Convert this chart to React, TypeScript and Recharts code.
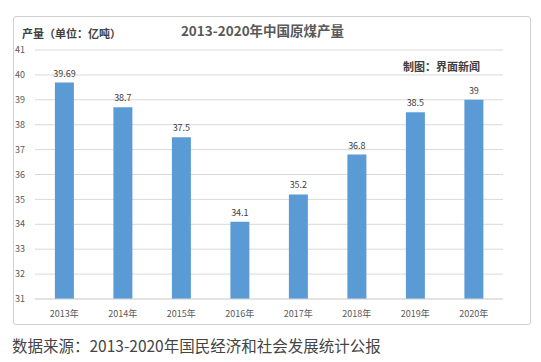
import React from 'react';
import { BarChart, Bar, XAxis, YAxis, CartesianGrid, LabelList } from 'recharts';

const years = ['2013年', '2014年', '2015年', '2016年', '2017年', '2018年', '2019年', '2020年'];
const output = [39.69, 38.7, 37.5, 34.1, 35.2, 36.8, 38.5, 39];
const yTicks = [31, 32, 33, 34, 35, 36, 37, 38, 39, 40, 41];

const chartData = years.map((year, i) => ({ year, output: output[i] }));

const cjk = '"Noto Sans CJK SC", "Noto Sans", sans-serif';

export default function App() {
  return (
    <div style={{ position: 'absolute', left: 0, top: 0, width: 541, height: 362, background: '#fff', fontFamily: cjk }}>
      <div
        style={{
          position: 'absolute',
          left: 13,
          top: 16,
          width: 516,
          height: 307,
          border: '1px solid #d0d0d0',
          borderRadius: 3,
        }}
      />
      <div style={{ position: 'absolute', left: 0, top: 0 }}>
        <BarChart width={541} height={330} data={chartData} margin={{ top: 50, right: 38, left: 0, bottom: 0 }} barCategoryGap="34%">
          <CartesianGrid vertical={false} stroke="#d9d9d9" />
          <XAxis
            dataKey="year"
            height={31}
            tickLine={false}
            axisLine={{ stroke: '#d9d9d9' }}
            tick={{ fontSize: 9, fill: '#595959', fontFamily: cjk }}
            tickMargin={6}
          />
          <YAxis
            width={35}
            domain={[31, 41]}
            ticks={yTicks}
            tickLine={false}
            axisLine={false}
            tickSize={0}
            tickMargin={10}
            tick={{ fontSize: 9, fill: '#595959', fontFamily: cjk }}
          />
          <Bar dataKey="output" fill="#5B9BD5" isAnimationActive={false}>
            <LabelList dataKey="output" position="top" offset={6} style={{ fontSize: 9, fill: '#404040', fontFamily: cjk }} />
          </Bar>
        </BarChart>
      </div>
      <div style={{ position: 'absolute', left: 0, width: 525, top: 20, textAlign: 'center', fontSize: 13.5, fontWeight: 700, color: '#595959' }}>
        2013-2020年中国原煤产量
      </div>
      <div style={{ position: 'absolute', left: 22, top: 25, fontSize: 11, fontWeight: 700, color: '#404040' }}>
        产量（单位：亿吨）
      </div>
      <div style={{ position: 'absolute', left: 403, top: 58, fontSize: 11, fontWeight: 700, color: '#404040' }}>
        制图：界面新闻
      </div>
      <div style={{ position: 'absolute', left: 12, top: 334, fontSize: 15.5, color: '#444' }}>
        数据来源：2013-2020年国民经济和社会发展统计公报
      </div>
    </div>
  );
}
